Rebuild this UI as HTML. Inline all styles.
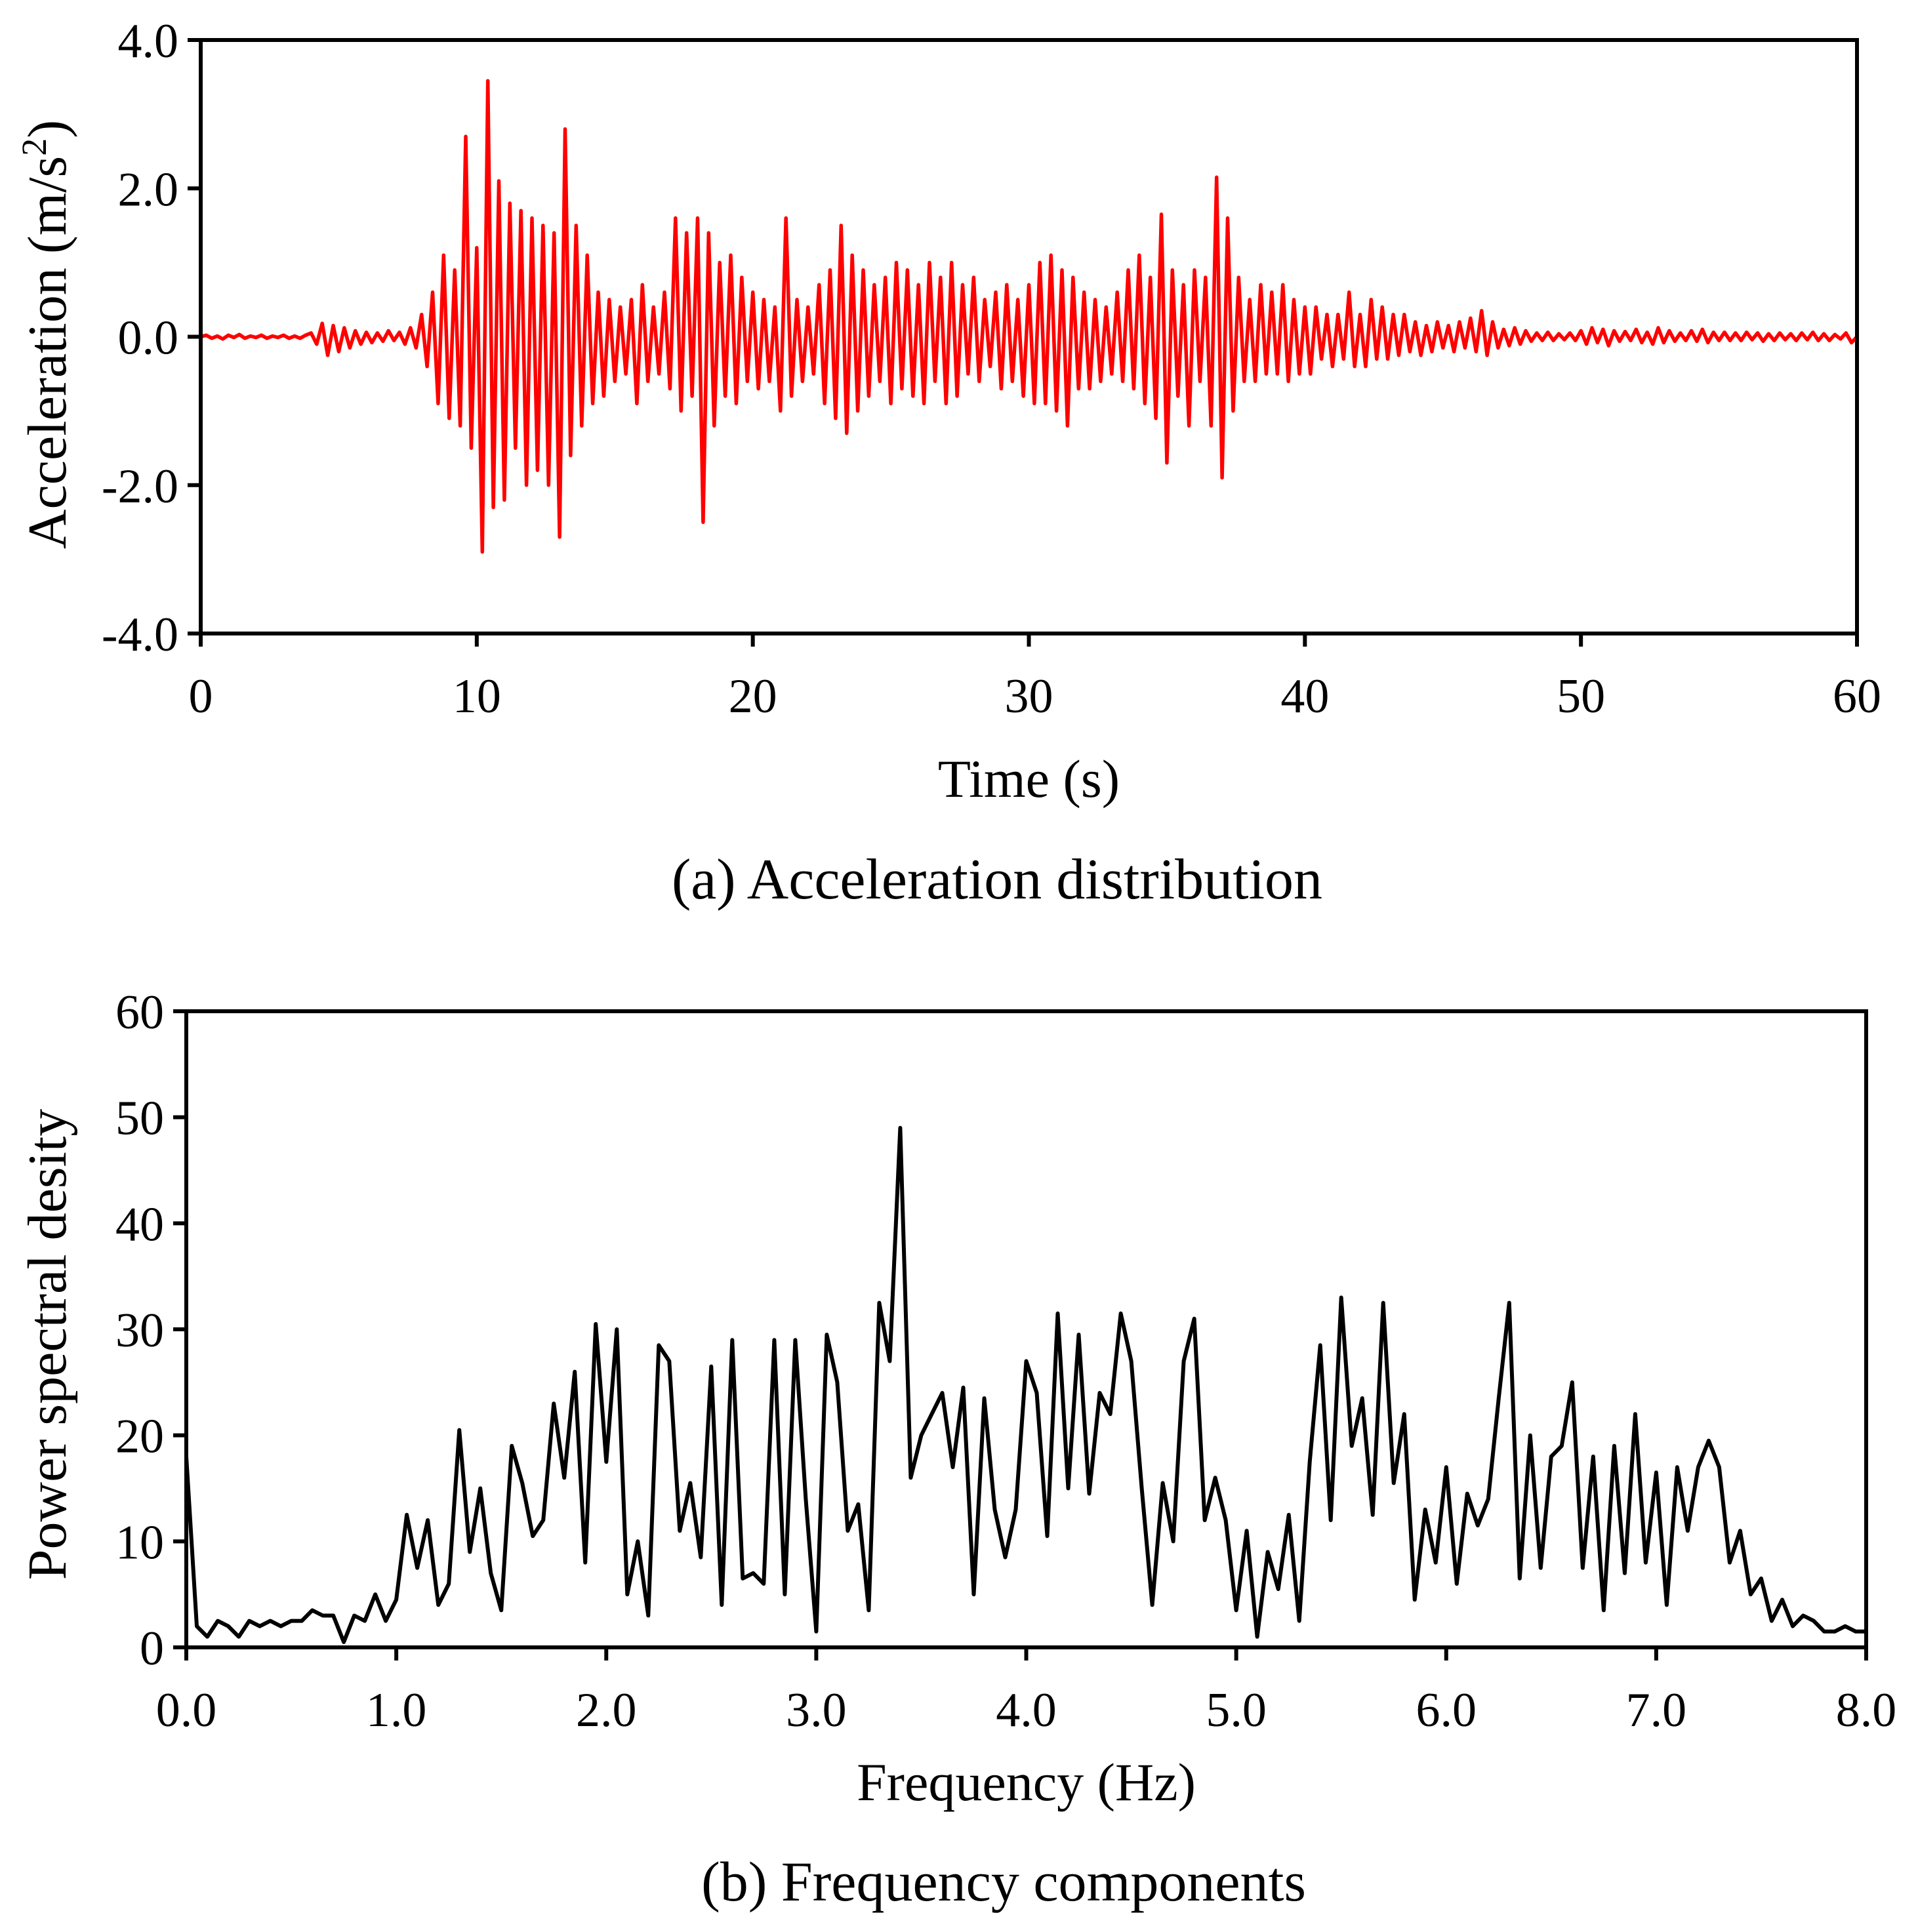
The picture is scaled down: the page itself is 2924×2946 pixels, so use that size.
<!DOCTYPE html>
<html><head><meta charset="utf-8"><style>
html,body{margin:0;padding:0;background:#fff;}
svg{display:block;font-family:"Liberation Serif",serif;}
</style></head><body>
<svg id="fig" width="2924" height="2946" viewBox="0 0 2924 2946" xmlns="http://www.w3.org/2000/svg">
<g id="accChart"></g>
<g id="psdChart"></g>
</svg>
<script>
const accStep = 0.2;
const accValues = [
0,0.02,-0.02,0.01,-0.03,0.02,-0.01,0.03,-0.02,0.01,-0.01,0.02,-0.02,0.01,-0.01,0.02,-0.02,0.01,-0.02,0.02,
0.05,-0.1,0.18,-0.25,0.15,-0.2,0.12,-0.15,0.08,-0.1,0.06,-0.08,0.05,-0.06,0.08,-0.05,0.06,-0.1,0.12,-0.15,
0.3,-0.4,0.6,-0.9,1.1,-1.1,0.9,-1.2,2.7,-1.5,
1.2,-2.9,3.45,-2.3,2.1,-2.2,1.8,-1.5,1.7,-2.0,
1.6,-1.8,1.5,-2.0,1.4,-2.7,2.8,-1.6,1.5,-1.2,
1.1,-0.9,0.6,-0.8,0.5,-0.6,0.4,-0.5,0.5,-0.9,
0.7,-0.6,0.4,-0.5,0.6,-0.7,1.6,-1.0,1.4,-0.8,
1.6,-2.5,1.4,-1.2,1.0,-0.8,1.1,-0.9,0.8,-0.6,
0.6,-0.7,0.5,-0.6,0.4,-1.0,1.6,-0.8,0.5,-0.6,
0.4,-0.5,0.7,-0.9,0.9,-1.1,1.5,-1.3,1.1,-1.0,
0.9,-0.8,0.7,-0.6,0.8,-0.9,1.0,-0.7,0.9,-0.8,
0.7,-0.9,1.0,-0.6,0.8,-0.9,1.0,-0.8,0.7,-0.5,
0.8,-0.6,0.5,-0.4,0.6,-0.7,0.7,-0.6,0.5,-0.8,
0.7,-0.9,1.0,-0.9,1.1,-1.0,0.9,-1.2,0.8,-0.7,
0.6,-0.7,0.5,-0.6,0.4,-0.5,0.6,-0.6,0.9,-0.7,
1.1,-0.9,0.8,-1.1,1.65,-1.7,0.9,-0.8,0.7,-1.2,
0.9,-0.6,0.8,-1.2,2.15,-1.9,1.6,-1.0,0.8,-0.6,
0.5,-0.6,0.7,-0.5,0.6,-0.5,0.7,-0.6,0.5,-0.5,
0.4,-0.5,0.4,-0.3,0.3,-0.4,0.3,-0.3,0.6,-0.4,
0.3,-0.4,0.5,-0.3,0.4,-0.3,0.3,-0.25,0.3,-0.2,
0.2,-0.25,0.15,-0.2,0.2,-0.15,0.15,-0.2,0.2,-0.15,
0.25,-0.2,0.35,-0.25,0.2,-0.15,0.1,-0.12,0.12,-0.1,
0.08,-0.06,0.05,-0.05,0.06,-0.05,0.04,-0.04,0.05,-0.05,
0.08,-0.1,0.12,-0.08,0.1,-0.12,0.08,-0.06,0.07,-0.05,
0.1,-0.08,0.06,-0.1,0.12,-0.08,0.08,-0.06,0.05,-0.05,
0.08,-0.06,0.1,-0.08,0.06,-0.05,0.06,-0.05,0.05,-0.05,
0.06,-0.04,0.05,-0.06,0.04,-0.05,0.05,-0.04,0.04,-0.05,
0.05,-0.04,0.06,-0.05,0.04,-0.05,0.03,-0.03,0.05,-0.08,0.0
];
const accXTicks = [0,10,20,30,40,50,60];
const accYTicks = [4,2,0,-2,-4];
const accYTickLabels = ["4.0","2.0","0.0","-2.0","-4.0"];

const psdStep = 0.05;
const psdValues = [
18,2,1,2.5,2,1,2.5,2,2.5,2,2.5,2.5,3.5,3,3,0.5,3,2.5,5,2.5,
4.5,12.5,7.5,12,4,6,20.5,9,15,7,
3.5,19,15.5,10.5,12,23,16,26,8,30.5,
17.5,30,5,10,3,28.5,27,11,15.5,8.5,
26.5,4,29,6.5,7,6,29,5,29,14,
1.5,29.5,25,11,13.5,3.5,32.5,27,49,16,
20,22,24,17,24.5,5,23.5,13,8.5,13,
27,24,10.5,31.5,15,29.5,14.5,24,22,31.5,
27,15,4,15.5,10,27,31,12,16,12,
3.5,11,1,9,5.5,12.5,2.5,17.5,28.5,12,
33,19,23.5,12.5,32.5,15.5,22,4.5,13,8,
17,6,14.5,11.5,14,23.5,32.5,6.5,20,7.5,
18,19,25,7.5,18,3.5,19,7,22,8,
16.5,4,17,11,17,19.5,17,8,11,5,
6.5,2.5,4.5,2,3,2.5,1.5,1.5,2,1.5,1.5
];
const psdXTicks = [0,1,2,3,4,5,6,7,8];
const psdXTickLabels = ["0.0","1.0","2.0","3.0","4.0","5.0","6.0","7.0","8.0"];
const psdYTicks = [0,10,20,30,40,50,60];

const NS = "http://www.w3.org/2000/svg";
function mk(parent, tag, attrs, text){
  const e = document.createElementNS(NS, tag);
  for (const k in attrs) e.setAttribute(k, attrs[k]);
  if (text !== undefined) e.textContent = text;
  parent.appendChild(e);
  return e;
}

function drawChart(g, cfg){
  const sx = v => cfg.left + (v - cfg.xmin) / (cfg.xmax - cfg.xmin) * (cfg.right - cfg.left);
  const sy = v => cfg.bottom - (v - cfg.ymin) / (cfg.ymax - cfg.ymin) * (cfg.bottom - cfg.top);
  let d = "";
  cfg.values.forEach((v, i) => { d += (i ? "L" : "M") + sx(i * cfg.step).toFixed(1) + "," + sy(v).toFixed(1); });
  const line = mk(g, "path", {d: d, fill: "none", stroke: cfg.color, "stroke-width": cfg.lw, "stroke-linejoin": "round"});
  
  
  const frame = mk(g, "rect", {x: cfg.left, y: cfg.top, width: cfg.right - cfg.left, height: cfg.bottom - cfg.top, fill: "none", stroke: "#000", "stroke-width": 6});
  
  
  cfg.xTicks.forEach((t, i) => {
    const x = sx(t);
    const tk = mk(g, "line", {x1: x, x2: x, y1: cfg.bottom, y2: cfg.bottom + 20, stroke: "#000", "stroke-width": 6});
    
    
    const lb = mk(g, "text", {x: x, y: cfg.bottom + 120, "font-size": 74, "text-anchor": "middle"}, cfg.xLabels[i]);
    
    
  });
  cfg.yTicks.forEach((t, i) => {
    const y = sy(t);
    const tk = mk(g, "line", {x1: cfg.left - 20, x2: cfg.left, y1: y, y2: y, stroke: "#000", "stroke-width": 6});
    
    
    const lb = mk(g, "text", {x: cfg.left - 34, y: y + 26, "font-size": 74, "text-anchor": "end"}, cfg.yLabels[i]);
    
    
  });
  const xt = mk(g, "text", {x: (cfg.left + cfg.right) / 2, y: cfg.xTitleY, "font-size": 82, "text-anchor": "middle"}, cfg.xTitle);
  
  
  const yt = mk(g, "text", {x: 0, y: 0, "font-size": 84, "text-anchor": "middle", transform: "translate(100," + cfg.yTitleY + ") rotate(-90)"});
  if (cfg.super) {
    yt.appendChild(document.createTextNode("Acceleration (m/s"));
    mk(yt, "tspan", {"baseline-shift": "super", "font-size": 54}, "2");
    yt.appendChild(document.createTextNode(")"));
  } else yt.textContent = cfg.yTitle;
  
  
  const cap = mk(g, "text", {x: cfg.capX, y: cfg.capY, "font-size": cfg.capSize, "text-anchor": "middle", "xml:space": "preserve"}, cfg.caption);
  
  
}

drawChart(document.getElementById("accChart"), {
  left: 306, right: 2831, top: 61, bottom: 966,
  xmin: 0, xmax: 60, ymin: -4, ymax: 4,
  values: accValues, step: accStep, color: "#ff0000", lw: 5.5, seriesName: "acceleration-line",
  xTicks: accXTicks, xLabels: accXTicks.map(String),
  yTicks: accYTicks, yLabels: accYTickLabels,
  xTitle: "Time (s)", xTitleY: 1215, yTitleY: 510, super: true,
  caption: "(a)  Acceleration distribution", capX: 1520, capY: 1370, capSize: 88
});
drawChart(document.getElementById("psdChart"), {
  left: 284, right: 2845, top: 1542, bottom: 2512,
  xmin: 0, xmax: 8, ymin: 0, ymax: 60,
  values: psdValues, step: psdStep, color: "#000", lw: 6, seriesName: "psd-line",
  xTicks: psdXTicks, xLabels: psdXTickLabels,
  yTicks: psdYTicks, yLabels: psdYTicks.map(String),
  xTitle: "Frequency (Hz)", xTitleY: 2745, yTitleY: 2050, super: false, yTitle: "Power spectral desity",
  caption: "(b) Frequency components", capX: 1530, capY: 2898, capSize: 86
});
</script>
</body></html>
